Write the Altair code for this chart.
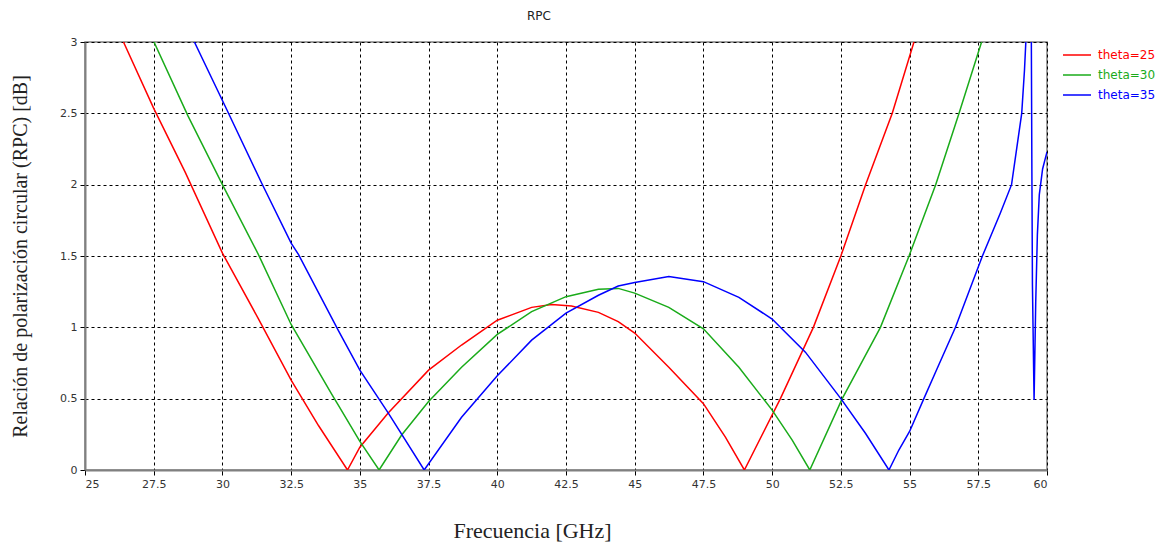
import altair as alt
import pandas as pd

# ---- data ----
series_names = ["theta=25", "theta=30", "theta=35"]
series_colors = ["#ff0000", "#1aab1a", "#0000ff"]

red_f = [26.4, 27.5, 28.64, 30.0, 31.31, 32.5, 33.5, 34.55, 35.0, 36.03, 37.5, 38.7, 40.0,
         41.25, 41.98, 42.7, 43.68, 44.4, 45.0, 46.24, 47.5, 48.3, 48.99,
         50.3, 51.5, 52.5, 53.4, 54.37, 55.16]
red_v = [3.0, 2.535, 2.09, 1.52, 1.06, 0.63, 0.31, 0.0, 0.16, 0.40, 0.70, 0.876, 1.05,
         1.14, 1.16, 1.15, 1.105, 1.04, 0.96, 0.72, 0.465, 0.23, 0.0,
         0.5, 1.0, 1.5, 2.0, 2.5, 3.0]

green_f = [27.51, 28.75, 30.0, 31.31, 32.5, 33.98, 34.21, 35.0, 35.7, 36.52, 37.5, 38.7, 40.0,
           41.25, 42.5, 43.68, 44.4, 45.0, 46.24, 47.5, 48.79, 50.0, 50.73, 51.37,
           52.55, 53.94, 54.98, 55.95, 56.8, 57.62]
green_v = [3.0, 2.48, 2.0, 1.51, 1.02, 0.53, 0.456, 0.2, 0.0, 0.245, 0.48, 0.72, 0.95,
           1.11, 1.215, 1.267, 1.273, 1.24, 1.14, 0.99, 0.72, 0.42, 0.21, 0.0,
           0.5, 1.0, 1.5, 2.0, 2.5, 3.0]

blue_f = [28.98, 30.1, 31.43, 32.5, 32.77, 34.21, 35.0, 36.03, 37.34, 38.7, 40.0, 41.25, 42.5,
          43.68, 44.4, 45.0, 46.24, 47.5, 48.79, 50.0, 51.21, 52.5, 53.4, 54.25,
          54.61, 55.0, 55.52, 56.0, 56.67, 57.65, 58.3, 58.71, 59.08, 59.18, 59.23, 59.3, 59.42,
          59.45, 59.47, 59.53, 59.59, 59.65, 59.72, 59.84, 60.0]
blue_v = [3.0, 2.55, 2.01, 1.59, 1.51, 0.98, 0.70, 0.40, 0.0, 0.37, 0.66, 0.91, 1.10,
          1.225, 1.29, 1.314, 1.356, 1.32, 1.21, 1.058, 0.826, 0.5, 0.256, 0.0,
          0.14, 0.27, 0.5, 0.71, 1.0, 1.5, 1.8, 2.0, 2.5, 2.8, 3.0, 3.5, 3.5,
          2.09, 1.30, 0.49, 1.18, 1.65, 1.93, 2.11, 2.23]

x_ticks = [25, 27.5, 30, 32.5, 35, 37.5, 40, 42.5, 45, 47.5, 50, 52.5, 55, 57.5, 60]
y_ticks = [0, 0.5, 1, 1.5, 2, 2.5, 3]

rows = []
for name, fs, vs in zip(series_names, [red_f, green_f, blue_f], [red_v, green_v, blue_v]):
    for i, (f, v) in enumerate(zip(fs, vs)):
        rows.append({"serie": name, "f": f, "v": v, "i": i})
df = pd.DataFrame(rows)

label_color_expr = ("datum.value == 'theta=25' ? '#ff0000' : "
                    "datum.value == 'theta=30' ? '#1aab1a' : '#0000ff'")

chart = alt.Chart(df).mark_line(strokeWidth=1.5, clip=True).encode(
    x=alt.X("f:Q",
            scale=alt.Scale(domain=[25, 60], nice=False, zero=False),
            axis=alt.Axis(values=x_ticks, format=".1~f", title="Frecuencia [GHz]",
                          titleFont="Liberation Serif", titleFontSize=22, titleFontWeight="normal",
                          titleColor="#222222", titleX=447, titleY=60, titleAlign="center",
                          titleBaseline="middle")),
    y=alt.Y("v:Q",
            scale=alt.Scale(domain=[0, 3], nice=False),
            axis=alt.Axis(values=y_ticks, format=".1~f",
                          title="Relación de polarización circular (RPC) [dB]",
                          titleFont="Liberation Serif", titleFontSize=20, titleFontWeight="normal",
                          titleColor="#222222", titleX=-65, titleY=214, titleAngle=270,
                          titleAlign="center", titleBaseline="middle")),
    color=alt.Color("serie:N",
                    scale=alt.Scale(domain=series_names, range=series_colors),
                    legend=alt.Legend(title=None, orient="none", legendX=977, legendY=6,
                                      symbolType="stroke", symbolSize=784, symbolStrokeWidth=1.5,
                                      labelFont="DejaVu Sans", labelFontSize=12,
                                      labelColor=alt.ExprRef(label_color_expr),
                                      labelOffset=6, rowPadding=6, clipHeight=14, padding=0)),
    order=alt.Order("i:Q"),
).properties(
    width=962,
    height=428,
    title=alt.TitleParams("RPC", font="DejaVu Sans", fontSize=12, fontWeight="normal",
                          color="#222222", anchor="middle", offset=13, dx=-27),
    autosize=alt.AutoSizeParams(type="none"),
    padding={"left": 77, "top": 34, "right": 111, "bottom": 72},
).configure_axis(
    grid=True,
    gridColor="#000000",
    gridDash=[3, 3],
    gridWidth=1,
    gridOpacity=1,
    domainColor="#808080",
    domainWidth=2,
    tickColor="#000000",
    tickSize=5,
    tickWidth=1,
    labelFont="DejaVu Sans",
    labelFontSize=11,
    labelColor="#333333",
    labelPadding=3,
).configure_view(
    stroke="#808080",
    strokeWidth=1.5,
)

chart.save("out.html", embed_options={"renderer": "svg", "actions": False})
